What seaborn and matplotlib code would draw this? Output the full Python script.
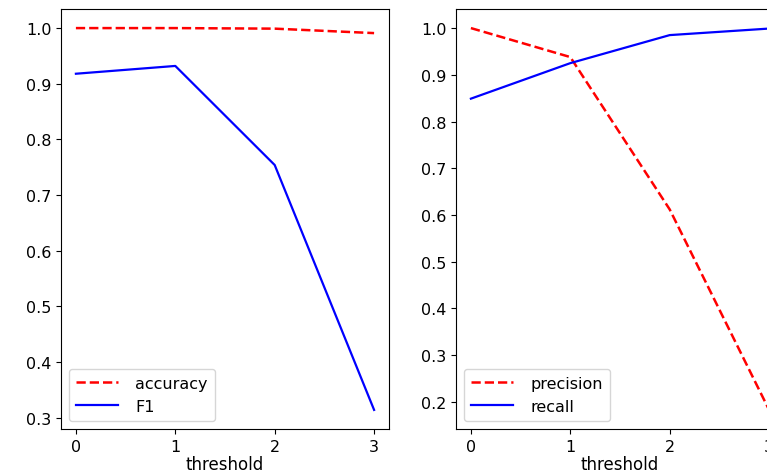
import matplotlib
matplotlib.use("Agg")
import matplotlib.pyplot as plt
import seaborn as sns
import pandas as pd

threshold = [0, 1, 2, 3]
accuracy = [1.0, 1.0, 0.999, 0.991]
f1 = [0.918, 0.932, 0.754, 0.314]
precision = [1.0, 0.938, 0.612, 0.183]
recall = [0.849, 0.925, 0.985, 0.999]

df = pd.DataFrame({"threshold": threshold, "accuracy": accuracy, "F1": f1,
                   "precision": precision, "recall": recall})

plt.rcParams['font.family'] = ['DejaVu Sans']
FS = 11.5

W, H = 767, 477
fig = plt.figure(figsize=(W / 100, H / 100), dpi=100)
ax1 = fig.add_axes([61 / W, 47 / H, 328 / W, 420 / H])
ax2 = fig.add_axes([456 / W, 47 / H, 328 / W, 420 / H])

sns.lineplot(data=df, x="threshold", y="accuracy", ax=ax1, color="red",
             linestyle="--", linewidth=1.8, label="accuracy")
sns.lineplot(data=df, x="threshold", y="F1", ax=ax1, color="blue",
             linewidth=1.6, label="F1")
sns.lineplot(data=df, x="threshold", y="precision", ax=ax2, color="red",
             linestyle="--", linewidth=1.8, label="precision")
sns.lineplot(data=df, x="threshold", y="recall", ax=ax2, color="blue",
             linewidth=1.6, label="recall")

for ax in (ax1, ax2):
    ax.set_xticks(threshold)
    ax.set_ylabel("")
    ax.set_xlabel("threshold", fontsize=FS + 0.5, labelpad=1)
    ax.tick_params(labelsize=FS)
    ax.legend(loc="lower left", fontsize=FS, handlelength=2.6,
              handletextpad=1.1, borderpad=0.45)

ax1.set_yticks([0.3, 0.4, 0.5, 0.6, 0.7, 0.8, 0.9, 1.0])
ax2.set_yticks([0.2, 0.3, 0.4, 0.5, 0.6, 0.7, 0.8, 0.9, 1.0])

fig.savefig("out.png", dpi=100)
